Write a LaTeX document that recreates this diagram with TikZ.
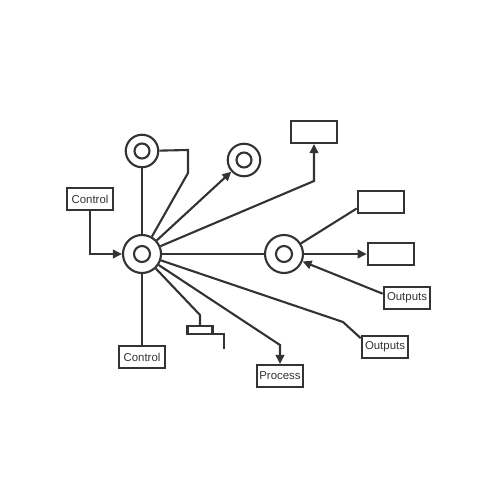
\documentclass[tikz,border=0pt]{standalone}
\usepackage{fontspec}
\setmainfont{Liberation Sans}
\usetikzlibrary{arrows.meta}
\definecolor{ink}{HTML}{333333}

\begin{document}
\begin{tikzpicture}[x=0.02cm, y=-0.02cm, line width=1.2pt, draw=ink, ink,
        >={Triangle[length=1.8mm, width=1.7mm]},
        bigring/.style={draw, circle, minimum size=0.76cm, inner sep=0pt,
            path picture={\draw[line width=1.2pt] (path picture bounding box.center) circle[radius=0.16cm];}},
        smallring/.style={draw, circle, minimum size=0.65cm, inner sep=0pt,
            path picture={\draw[line width=1.2pt] (path picture bounding box.center) circle[radius=0.15cm];}},
        block/.style={draw, rectangle, minimum width=0.93cm, minimum height=0.44cm, inner sep=1pt,
            font=\fontsize{6.5}{7.5}\selectfont}]
        \useasboundingbox (0,0) rectangle (500,500);

        \node [bigring] (hub) at (142, 254) {};
        \node [bigring] (mid) at (284, 254) {};
        \node [smallring] (top) at (142, 151) {};
        \node [smallring] (aux) at (244, 160) {};

        \node [block] (ctlA) at (90, 199) {Control};
        \node [block] (ctlB) at (142, 357) {Control};
        \node [block] (proc) at (280, 376) {Process};
        \node [block] (outA) at (407, 298) {Outputs};
        \node [block] (outB) at (385, 347) {Outputs};
        \node [block] (boxA) at (314, 132) {};
        \node [block] (boxB) at (381, 202) {};
        \node [block] (boxC) at (391, 254) {};
        \node [draw, rectangle, minimum width=0.5cm, minimum height=0.16cm, inner sep=0pt] (tap) at (200, 330) {};

        % Bends
        \coordinate (b1) at (188, 150);
        \coordinate (b2) at (188, 173);
        \coordinate (b3) at (314, 181);
        \coordinate (b4) at (343, 322);
        \coordinate (b5) at (280, 345);
        \coordinate (b6) at (200, 315);
        \coordinate (b7) at (224, 349);

        % Spokes
        \draw (top) -- (hub);
        \draw (top) -- (b1) -- (b2) -- (hub);
        \draw[->] (hub) -- (aux);
        \draw[->] (hub) -- (b3) -- (boxA.south);
        \draw (hub) -- (mid);
        \draw (hub) -- (b4) -- (outB.160);
        \draw[->] (hub) -- (b5) -- (proc.north);
        \draw (hub) -- (b6) -- (tap);
        \draw (tap.-15) -| (b7);
        \draw (hub) -- (ctlB);
        \draw[->] (ctlA) |- (hub);

        % Edges
        \draw (mid) -- (boxB.195);
        \draw[->] (mid) -- (boxC);
        \draw[->] (outA.170) -- (mid);
    \end{tikzpicture}
\end{document}
